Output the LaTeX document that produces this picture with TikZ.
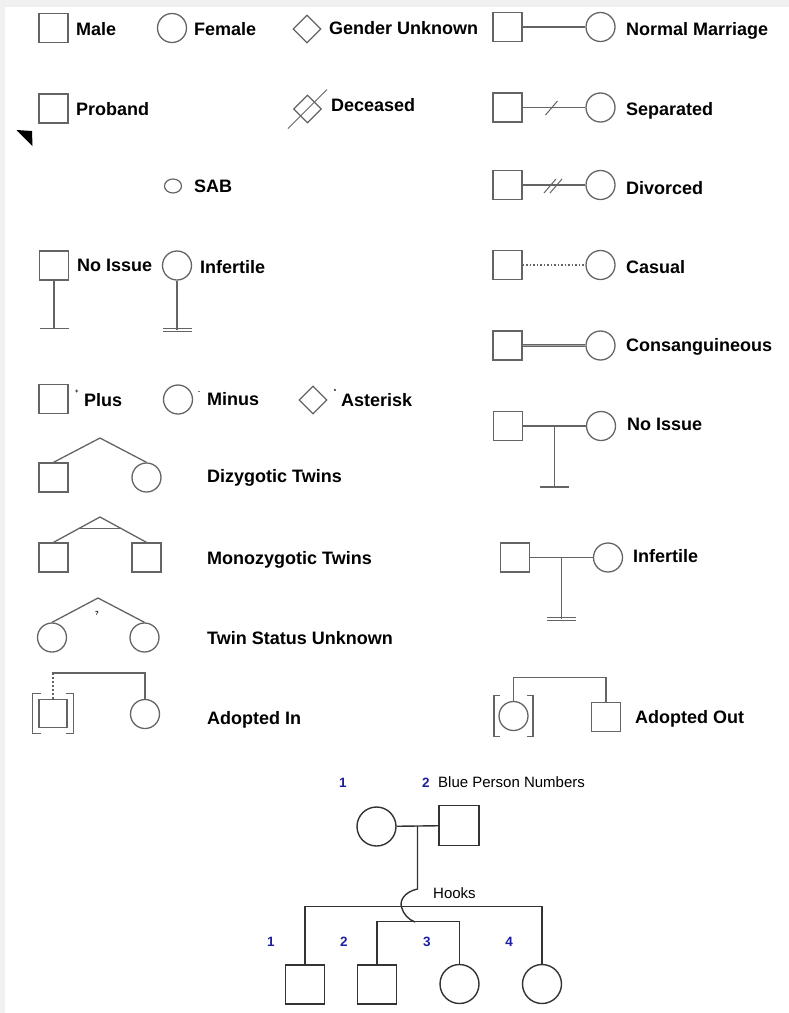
\documentclass[tikz,border=0pt]{standalone}
\usepackage{fontspec}
\setmainfont{Liberation Sans}
\usetikzlibrary{shapes.geometric}
\usetikzlibrary{calc}
\definecolor{symgray}{RGB}{100,100,100}
\definecolor{pnumblue}{RGB}{30,30,160}
\tikzset{
  sq/.style={draw=symgray, line width=1.3pt, rectangle, minimum size=29pt, inner sep=0pt},
  circ/.style={draw=symgray, line width=1.3pt, circle, minimum size=29pt, inner sep=0pt},
  dia/.style={draw=symgray, line width=1.3pt, diamond, minimum width=28pt, minimum height=28pt, inner sep=0pt},
  con/.style={draw=symgray, line width=1.3pt},
  lbl/.style={anchor=base west, inner sep=0pt, font=\bfseries\fontsize{18}{21}\selectfont},
  bsq/.style={draw=black!80, line width=1.4pt, rectangle, minimum size=39pt, inner sep=0pt},
  bcirc/.style={draw=black!80, line width=1.4pt, circle, minimum size=39pt, inner sep=0pt},
  bline/.style={draw=black!80, line width=1.4pt},
  pnum/.style={anchor=base, inner sep=0pt, text=pnumblue, font=\bfseries\fontsize{13.5}{16}\selectfont},
  note/.style={anchor=base west, inner sep=0pt, font=\fontsize{15}{18}\selectfont},
  tinymark/.style={inner sep=0pt, font=\bfseries\fontsize{6}{6}\selectfont}
}
\begin{document}
\begin{tikzpicture}[x=1pt, y=-1pt]
\useasboundingbox (0,0) rectangle (789,1013);
\fill[black!6] (0,0) rectangle (789,7);
\fill[black!6] (0,0) rectangle (5,1013);
% row 1
\node[sq] (male) at (53.5,28) {};
\node[lbl] (maletxt) at (76,35.5) {Male};
\node[circ] (female) at (172,28) {};
\node[lbl] (femtxt) at (194,35) {Female};
\node[dia] (unk) at (307,29) {};
\node[lbl] (unktxt) at (329,34.5) {Gender Unknown};
\node[sq] (nmm) at (507.5,27) {};
\node[circ] (nmf) at (600.5,27) {};
\draw[con] (nmm) -- (nmf);
\node[lbl] (nmtxt) at (626,35) {Normal Marriage};
% row 2
\node[sq] (prob) at (53.5,108.5) {};
\node[lbl] (probtxt) at (76,115) {Proband};
\fill[black] (16.5,130) -- (32,131) -- (32.5,146) -- cycle;
\node[dia] (dec) at (307.5,109) {};
\draw[con, line width=1pt] (dec.center) ++(-19.5,19.5) -- ++(39,-39);
\node[lbl] (dectxt) at (331,111) {Deceased};
\node[sq] (sepm) at (507.5,107.5) {};
\node[circ] (sepf) at (600.5,107.5) {};
\draw[con] (sepm) -- (sepf);
\draw[con, line width=1pt] (551.5,108) +(-6,7) -- +(6,-7);
\node[lbl] (septxt) at (626,115) {Separated};
% row 3
\node[draw=symgray, line width=1.2pt, ellipse, minimum width=17pt, minimum height=14pt, inner sep=0pt] (sab) at (173,186) {};
\node[lbl] (sabtxt) at (194,192) {SAB};
\node[sq] (divm) at (507.5,185) {};
\node[circ] (divf) at (600.5,185) {};
\draw[con] (divm) -- (divf);
\draw[con, line width=1pt] (550,186) +(-6,7) -- +(6,-7);
\draw[con, line width=1pt] (556,186) +(-6,7) -- +(6,-7);
\node[lbl] (divtxt) at (626,194) {Divorced};
% row 4
\node[sq] (nis) at (54,265.5) {};
\draw[con] (nis.south) -- ++(0,48) coordinate (nisb);
\draw[con] (nisb) ++(-14.5,0) -- ++(29,0);
\node[lbl] (nistxt) at (77,271.5) {No Issue};
\node[circ] (inf) at (177,265.5) {};
\draw[con] (inf.south) -- ++(0,49) coordinate (infb);
\draw[con] (infb) ++(-14.5,-1.5) -- ++(29,0);
\draw[con] (infb) ++(-14.5,1.5) -- ++(29,0);
\node[lbl] (inftxt) at (200,273) {Infertile};
\node[sq] (casm) at (507.5,265) {};
\node[circ] (casf) at (600.5,265) {};
\draw[con, line width=1.2pt, dash pattern=on 1.5pt off 2pt] (casm) -- (casf);
\node[lbl] (castxt) at (626,273) {Casual};
% row 5
\node[sq] (conm) at (507.5,345.5) {};
\node[circ] (conf) at (600.5,345.5) {};
\draw[con, line width=1.2pt, double=symgray!60, double distance=0.6pt] (conm) -- (conf);
\node[lbl] (contxt) at (626,351) {Consanguineous};
% plus, minus, asterisk
\node[sq] (plus) at (53.5,399) {};
\node[tinymark] (plusmk) at (77,392) {+};
\node[lbl] (plustxt) at (84,406.5) {Plus};
\node[circ] (minus) at (178,399.5) {};
\node[tinymark] (minusmk) at (199,393) {-};
\node[lbl] (minustxt) at (207,405) {Minus};
\node[dia] (ast) at (313,400) {};
\node[tinymark] (astmk) at (335,391) {*};
\node[lbl] (asttxt) at (341,406.5) {Asterisk};
% couple with no issue
\node[sq] (nim) at (508,426) {};
\node[circ] (nif) at (601,426) {};
\draw[con] (nim) -- (nif);
\draw[con] ($(nim.east)!0.5!(nif.west)$) -- ++(0,61) coordinate (nib);
\draw[con] (nib) ++(-14.5,0) -- ++(29,0);
\node[lbl] (nitxt) at (627,430.5) {No Issue};
% twins
\coordinate (dzapex) at (100,438);
\node[sq] (dzm) at (53.5,477.5) {};
\node[circ] (dzf) at (146.5,477.5) {};
\draw[con] (dzm.north) -- (dzapex) -- (dzf.north);
\node[lbl] (dztxt) at (207,482.5) {Dizygotic Twins};
\coordinate (mzapex) at (100,517);
\node[sq] (mza) at (53.5,557.5) {};
\node[sq] (mzb) at (146.5,557.5) {};
\draw[con] (mza.north) -- (mzapex) -- (mzb.north);
\draw[con] ($(mzapex)!0.46!(mza.north)$) -- ($(mzapex)!0.46!(mzb.north)$);
\node[lbl] (mztxt) at (207,564) {Monozygotic Twins};
% infertile couple
\node[sq] (ifm) at (515,557.5) {};
\node[circ] (iff) at (608,557.5) {};
\draw[con] (ifm) -- (iff);
\draw[con] ($(ifm.east)!0.5!(iff.west)$) -- ++(0,61.5) coordinate (ifb);
\draw[con] (ifb) ++(-14.5,-1.5) -- ++(29,0);
\draw[con] (ifb) ++(-14.5,1.5) -- ++(29,0);
\node[lbl] (iftxt) at (633,562.5) {Infertile};
\coordinate (uzapex) at (98,598);
\node[circ] (uza) at (52,637.5) {};
\node[circ] (uzb) at (144.5,637.5) {};
\draw[con] (uza.north) -- (uzapex) -- (uzb.north);
\node[tinymark] (uzq) at (97,613) {?};
\node[lbl] (uztxt) at (207,644) {Twin Status Unknown};
% adoption
\node[draw=symgray, line width=1.3pt, rectangle, minimum size=28pt, inner sep=0pt] (aim) at (53,713.5) {};
\draw[con] (aim) ++(-12.5,-20) -- ++(-8,0) -- ++(0,40) -- ++(8,0);
\draw[con] (aim) ++(12.5,-20) -- ++(8,0) -- ++(0,40) -- ++(-8,0);
\node[circ] (aif) at (145,714) {};
\draw[con] (aif.north) -- ++(0,-26) -| (aim.north);
\draw[con, draw=white, line width=2pt] (aim.north) -- ++(0,-25);
\draw[con, line width=1.1pt, dash pattern=on 2pt off 2pt] (aim.north) -- ++(0,-25);
\node[lbl] (aitxt) at (207,724) {Adopted In};
\node[circ] (aof) at (513.5,716) {};
\draw[con] (aof) ++(-13.5,-20.5) -- ++(-6,0) -- ++(0,41) -- ++(6,0);
\draw[con] (aof) ++(13.5,-20.5) -- ++(6,0) -- ++(0,41) -- ++(-6,0);
\node[sq] (aom) at (606,717) {};
\draw[con] (aof.north) -- ++(0,-23.5) -| (aom.north);
\node[lbl] (aotxt) at (635,723) {Adopted Out};
% pedigree with person numbers and hooks
\node[bcirc] (mo) at (376.5,826.5) {};
\node[bsq, minimum size=40pt] (fa) at (459,825.5) {};
\draw[bline] (mo) -- (fa);
\node[pnum] (pmo) at (343,787) {1};
\node[pnum] (pfa) at (426,787) {2};
\node[note] (bpntxt) at (438,787) {Blue Person Numbers};
\node[bsq] (ca) at (305,984.5) {};
\node[bsq] (cb) at (377,984.5) {};
\node[bcirc] (cc) at (459.5,984) {};
\node[bcirc] (cd) at (542,984) {};
\draw[bline] (ca.north) -- ++(0,-58) -| (cd.north);
\draw[bline] (cb.north) -- ++(0,-43) coordinate (sibl) -| (cc.north);
\coordinate (hk) at ($(mo.east)!0.5!(fa.west)$);
\draw[bline] (hk) -- (hk |- 0,889)
  .. controls (404,892) and (399.5,901) .. (401.5,907)
  .. controls (403,914) and (409,920) .. (415,922);
\node[note] (hooktxt) at (433,898) {Hooks};
\node[pnum] (pca) at (271,946) {1};
\node[pnum] (pcb) at (344,946) {2};
\node[pnum] (pcc) at (427,946) {3};
\node[pnum] (pcd) at (509,946) {4};
\end{tikzpicture}
\end{document}
